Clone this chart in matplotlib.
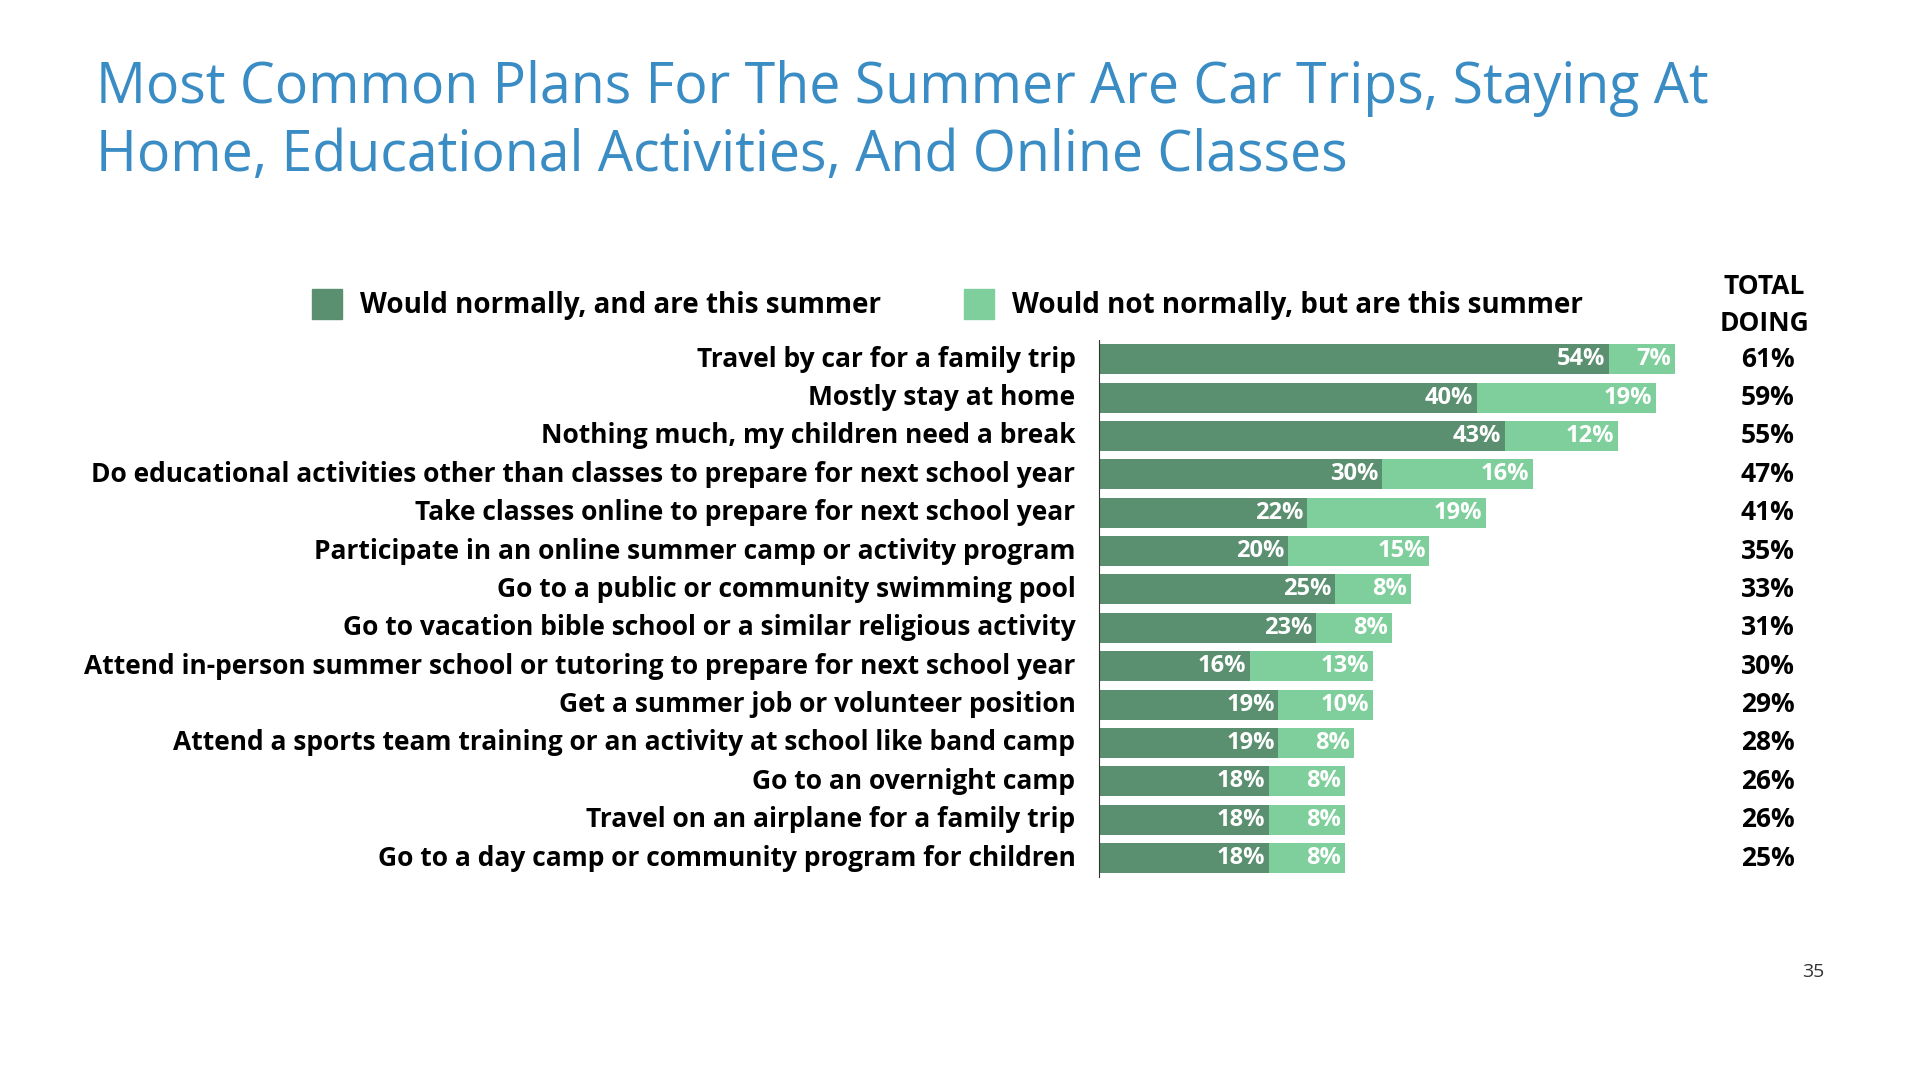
import matplotlib
matplotlib.use("Agg")
import matplotlib.pyplot as plt

categories = ["Travel by car for a family trip", "Mostly stay at home", "Nothing much, my children need a break",
 "Do educational activities other than classes to prepare for next school year",
 "Take classes online to prepare for next school year", "Participate in an online summer camp or activity program",
 "Go to a public or community swimming pool", "Go to vacation bible school or a similar religious activity",
 "Attend in-person summer school or tutoring to prepare for next school year",
 "Get a summer job or volunteer position", "Attend a sports team training or an activity at school like band camp",
 "Go to an overnight camp", "Travel on an airplane for a family trip", "Go to a day camp or community program for children"]
normally = [54, 40, 43, 30, 22, 20, 25, 23, 16, 19, 19, 18, 18, 18]
not_normally = [7, 19, 12, 16, 19, 15, 8, 8, 13, 10, 8, 8, 8, 8]
total = [61, 59, 55, 47, 41, 35, 33, 31, 30, 29, 28, 26, 26, 25]

DARK = "#5a8f70"; LIGHT = "#7fcf9c"; BLUE = "#3a8cc4"
plt.rcParams['font.family'] = ['Open Sans', 'DejaVu Sans']
W, H = 1567, 881
fig = plt.figure(figsize=(19.2, 10.8), dpi=100)

fig.text(78/W, 1-72/H, "Most Common Plans For The Summer Are Car Trips, Staying At", color=BLUE, fontsize=40, va='center')
fig.text(78/W, 1-128/H, "Home, Educational Activities, And Online Classes", color=BLUE, fontsize=40, va='center')

n = len(categories)
top_c, bot_c = 293, 700
step = (bot_c - top_c) / (n - 1)
ax_top = top_c - step/2; ax_bot = bot_c + step/2
ax = fig.add_axes([897/W, 1-ax_bot/H, (1367-897)/W, (ax_bot-ax_top)/H])
y = list(range(n))
ax.barh(y, normally, color=DARK, height=0.78)
ax.barh(y, not_normally, left=normally, color=LIGHT, height=0.78)
ax.set_xlim(0, 61); ax.set_ylim(n-0.5, -0.5)
for i in range(n):
    ax.text(normally[i]-0.4, i, f"{normally[i]}%", ha='right', va='center', color='white', fontsize=17, fontweight='bold')
    ax.text(normally[i]+not_normally[i]-0.4, i, f"{not_normally[i]}%", ha='right', va='center', color='white', fontsize=17, fontweight='bold')
    ax.text(-2.5, i, categories[i], ha='right', va='center', color='black', fontsize=19, fontweight='bold')
    ax.text(70.8, i, f"{total[i]}%", ha='center', va='center', color='black', fontsize=19, fontweight='bold')
for s in ['top', 'right', 'bottom']:
    ax.spines[s].set_visible(False)
ax.spines['left'].set_color('#333333')
ax.set_xticks([]); ax.set_yticks([])

fig.text(1440/W, 1-234/H, "TOTAL", ha='center', va='center', fontsize=19, fontweight='bold')
fig.text(1440/W, 1-264/H, "DOING", ha='center', va='center', fontsize=19, fontweight='bold')

# legend
fig.patches.append(plt.Rectangle((255/W, 1-260/H), 24/W, 24/H, color=DARK, transform=fig.transFigure))
fig.text(294/W, 1-249/H, "Would normally, and are this summer", va='center', fontsize=20, fontweight='bold')
fig.patches.append(plt.Rectangle((787/W, 1-260/H), 24/W, 24/H, color=LIGHT, transform=fig.transFigure))
fig.text(826/W, 1-249/H, "Would not normally, but are this summer", va='center', fontsize=20, fontweight='bold')

fig.text(1480/W, 1-793/H, "35", ha='center', va='center', fontsize=14, color='#333333')
fig.savefig("out.png", dpi=100, facecolor='white')
